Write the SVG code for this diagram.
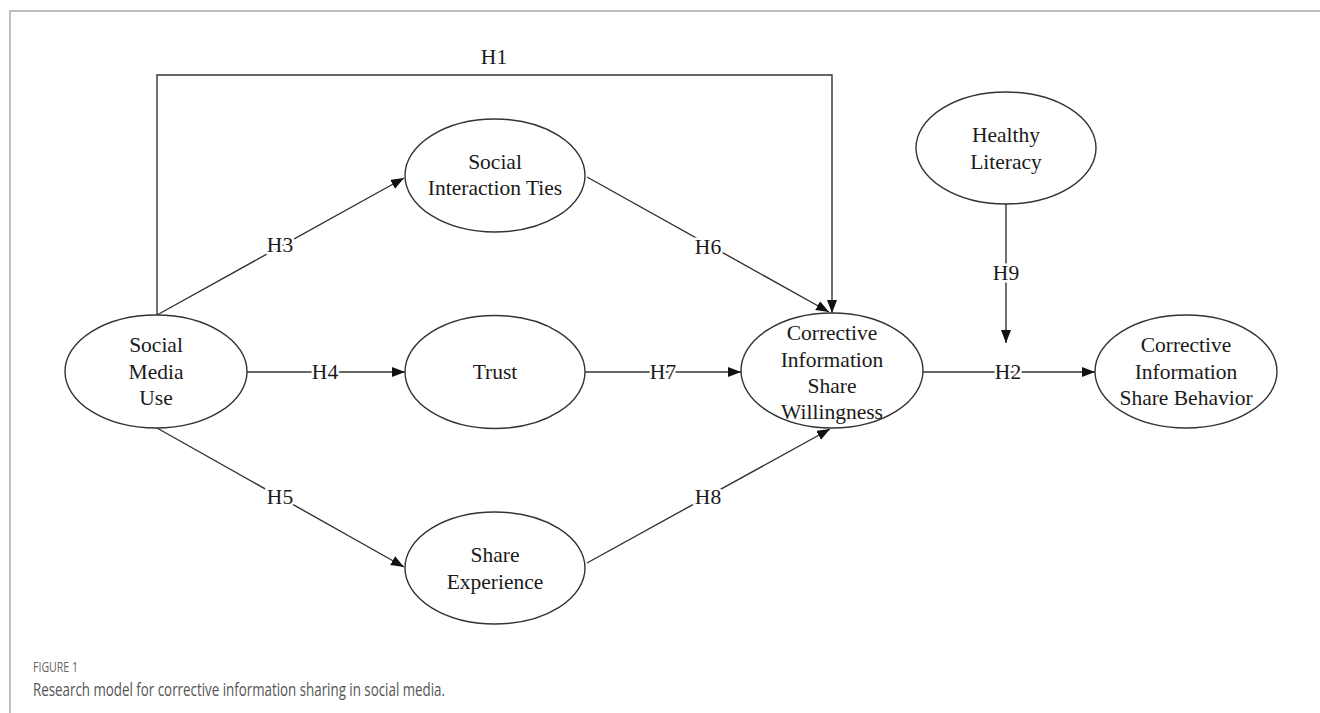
<svg xmlns="http://www.w3.org/2000/svg" width="1320" height="713" viewBox="0 0 1320 713">
<style>
.node ellipse{fill:#fff;stroke:#333;stroke-width:1.4}
.t{font-family:'Liberation Serif','DejaVu Serif',serif;font-size:21.5px;fill:#1a1a1a;text-anchor:middle}
.edge{fill:none;stroke:#333;stroke-width:1.4}
.lbl{font-family:'Liberation Serif','DejaVu Serif',serif;font-size:21.5px;fill:#1a1a1a;text-anchor:middle;stroke:#fff;stroke-width:5;paint-order:stroke;stroke-linejoin:round}
.cap1{font-family:'Open Sans','Noto Sans',sans-serif;font-size:15px;fill:#666}
.cap2{font-family:'Open Sans','Noto Sans',sans-serif;font-size:18.5px;fill:#555}
</style>
<defs>
<marker id="arr" markerUnits="userSpaceOnUse" markerWidth="14" markerHeight="12" refX="13" refY="5" orient="auto">
<path d="M0,0 L13,5 L0,10 Z" fill="#111"/>
</marker>
</defs>
<rect width="1320" height="713" fill="#fff"/>
<path d="M10,713 V11 H1320" fill="none" stroke="#aaa" stroke-width="1.5"/>

<g id="connectors">
<path class="edge" d="M157,315 V75 H832 V313" marker-end="url(#arr)"/>
<line class="edge" x1="157" y1="315" x2="404" y2="178" marker-end="url(#arr)"/>
<line class="edge" x1="247" y1="372" x2="405" y2="372" marker-end="url(#arr)"/>
<line class="edge" x1="157" y1="428" x2="404" y2="567" marker-end="url(#arr)"/>
<line class="edge" x1="587" y1="177" x2="829" y2="312" marker-end="url(#arr)"/>
<line class="edge" x1="585" y1="372" x2="741" y2="372" marker-end="url(#arr)"/>
<line class="edge" x1="587" y1="563" x2="830" y2="429" marker-end="url(#arr)"/>
<line class="edge" x1="923" y1="372" x2="1095" y2="372" marker-end="url(#arr)"/>
<line class="edge" x1="1006" y1="204" x2="1006" y2="343" marker-end="url(#arr)"/>
<text class="lbl" x="494" y="64">H1</text>
<text class="lbl" x="280" y="252">H3</text>
<text class="lbl" x="325" y="379">H4</text>
<text class="lbl" x="280" y="504">H5</text>
<text class="lbl" x="708" y="254">H6</text>
<text class="lbl" x="663" y="379">H7</text>
<text class="lbl" x="708" y="504">H8</text>
<text class="lbl" x="1008" y="379">H2</text>
<text class="lbl" x="1006" y="280">H9</text>
</g>

<g id="social-media-use" class="node">
<ellipse cx="156" cy="371.5" rx="91" ry="56.5"/>
<text class="t" x="156" y="352">Social</text>
<text class="t" x="156" y="379">Media</text>
<text class="t" x="156" y="405">Use</text>
</g>
<g id="social-interaction-ties" class="node">
<ellipse cx="495" cy="175.5" rx="90" ry="56.5"/>
<text class="t" x="495" y="169">Social</text>
<text class="t" x="495" y="195">Interaction Ties</text>
</g>
<g id="trust" class="node">
<ellipse cx="495" cy="372" rx="90" ry="56.5"/>
<text class="t" x="495" y="379">Trust</text>
</g>
<g id="share-experience" class="node">
<ellipse cx="495" cy="568" rx="90" ry="56"/>
<text class="t" x="495" y="562">Share</text>
<text class="t" x="495" y="589">Experience</text>
</g>
<g id="willingness" class="node">
<ellipse cx="832" cy="370.5" rx="91" ry="57.5"/>
<text class="t" x="832" y="340">Corrective</text>
<text class="t" x="832" y="367">Information</text>
<text class="t" x="832" y="393">Share</text>
<text class="t" x="832" y="419">Willingness</text>
</g>
<g id="healthy-literacy" class="node">
<ellipse cx="1006" cy="148" rx="90" ry="56"/>
<text class="t" x="1006" y="142">Healthy</text>
<text class="t" x="1006" y="169">Literacy</text>
</g>
<g id="behavior" class="node">
<ellipse cx="1186" cy="371.5" rx="91" ry="56.5"/>
<text class="t" x="1186" y="352">Corrective</text>
<text class="t" x="1186" y="379">Information</text>
<text class="t" x="1186" y="405">Share Behavior</text>
</g>

<text class="cap1" x="33" y="672" textLength="45" lengthAdjust="spacingAndGlyphs">FIGURE 1</text>
<text class="cap2" x="33" y="696" textLength="412" lengthAdjust="spacingAndGlyphs">Research model for corrective information sharing in social media.</text>
</svg>
